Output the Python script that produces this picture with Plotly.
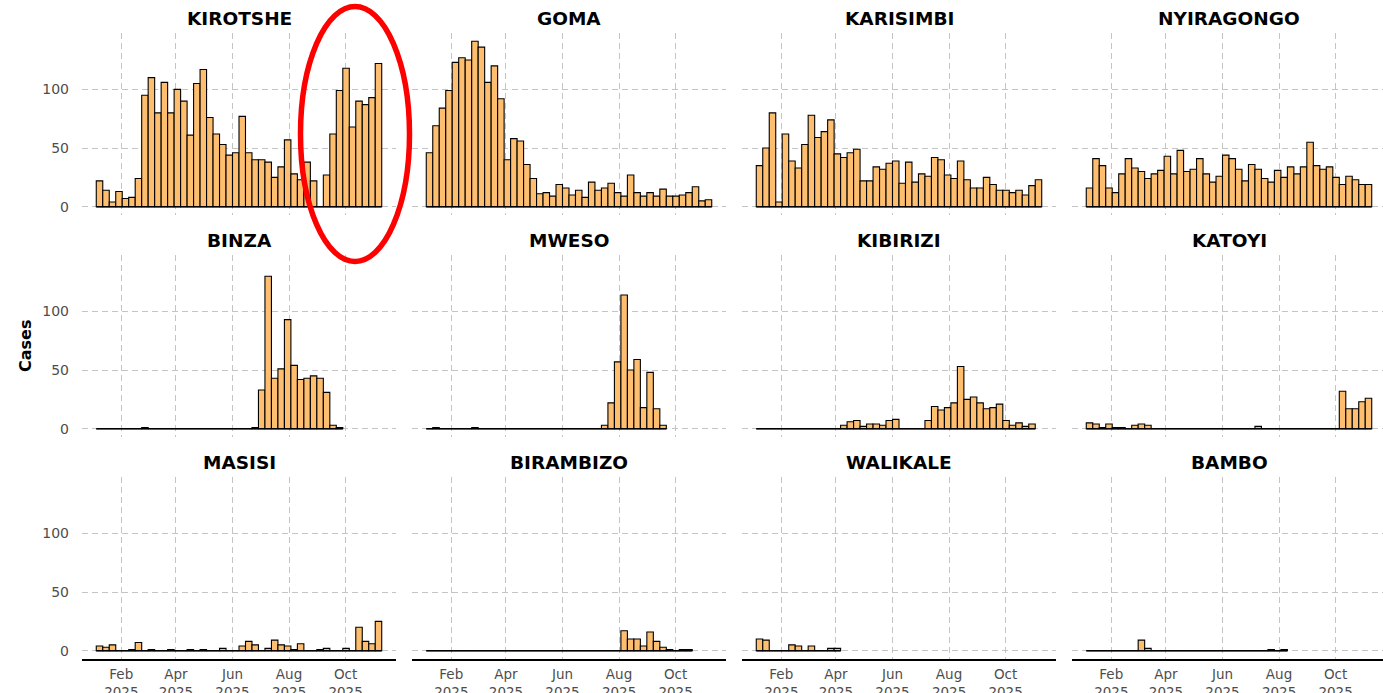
import plotly.graph_objects as go
import pandas as pd

# ---------------- data ----------------
week_starts = pd.date_range("2025-01-05", periods=44, freq="7D")

facets = ["KIROTSHE", "GOMA", "KARISIMBI", "NYIRAGONGO",
          "BINZA", "MWESO", "KIBIRIZI", "KATOYI",
          "MASISI", "BIRAMBIZO", "WALIKALE", "BAMBO"]

N = None
kirotshe = [22, 14, 4, 13, 7, 8, 24, 95, 110, 80,
            106, 80, 100, 90, 61, 105, 117, 76, 62, 53,
            44, 46, 77, 46, 40, 40, 38, 25, 34, 57,
            28, 23, 38, 22, 0, 27, 62, 99, 118, 68,
            90, 87, 93, 122]
goma = [46, 69, 84, 99, 123, 127, 125, 141, 136, 106,
        120, 92, 40, 58, 56, 36, 24, 11, 12, 9,
        19, 16, 10, 14, 8, 21, 14, 16, 20, 12,
        9, 27, 12, 9, 12, 9, 15, 9, 9, 10,
        12, 17, 5, 6]
karisimbi = [35, 50, 80, 4, 62, 39, 33, 53, 78, 59,
             64, 74, 45, 42, 46, 49, 22, 22, 34, 32,
             37, 39, 20, 38, 21, 28, 26, 42, 40, 27,
             24, 39, 23, 16, 16, 25, 19, 14, 14, 12,
             14, 10, 18, 23]
nyiragongo = [16, 41, 35, 16, 12, 28, 41, 33, 30, 24,
              28, 31, 43, 28, 48, 30, 32, 41, 28, 21,
              26, 44, 41, 32, 22, 36, 32, 24, 21, 31,
              25, 34, 28, 34, 55, 35, 32, 34, 25, 19,
              26, 23, 19, 19]
binza = [0, 0, 0, 0, 0, 0, 0, 1, 0, 0,
         0, 0, 0, 0, 0, 0, 0, 0, 0, 0,
         0, 0, 0, 0, 1, 33, 130, 43, 51, 93,
         54, 42, 43, 45, 43, 31, 3, 1, N, N,
         N, N, N, N]
mweso = [0, 1, 0, 0, 0, 0, 0, 1, 0, 0,
         0, 0, 0, 0, 0, 0, 0, 0, 0, 0,
         0, 0, 0, 0, 0, 0, 0, 3, 22, 57,
         114, 50, 59, 18, 48, 17, 3, N, N, N,
         N, N, N, N]
kibirizi = [0, 0, 0, 0, 0, 0, 0, 0, 0, 0,
            0, 0, 0, 3, 6, 7, 2, 4, 4, 3,
            7, 8, 0, 0, 0, 0, 7, 19, 16, 18,
            22, 53, 25, 27, 22, 17, 18, 21, 7, 3,
            5, 2, 4, N]
katoyi = [5, 4, 1, 4, 1, 1, 0, 3, 4, 3,
          0, 0, 0, 0, 0, 0, 0, 0, 0, 0,
          0, 0, 0, 0, 0, 0, 2, 0, 0, 0,
          0, 0, 0, 0, 0, 0, 0, 0, 0, 32,
          17, 17, 23, 26]
masisi = [4, 3, 5, 0, 0, 1, 7, 0, 1, 0,
          0, 1, 0, 0, 1, 0, 1, 0, 0, 2,
          0, 0, 4, 8, 5, 0, 2, 9, 5, 4,
          1, 6, 0, 0, 1, 2, 0, 0, 2, 0,
          20, 8, 6, 25]
birambizo = [0, 0, 0, 0, 0, 0, 0, 0, 0, 0,
             0, 0, 0, 0, 0, 0, 0, 0, 0, 0,
             0, 0, 0, 0, 0, 0, 0, 0, 0, 0,
             17, 10, 10, 4, 16, 8, 3, 1, 0, 1,
             1, N, N, N]
walikale = [10, 9, 0, 0, 0, 5, 4, 0, 4, 0,
            0, 2, 2, N, N, N, N, N, N, N,
            N, N, N, N, N, N, N, N, N, N,
            N, N, N, N, N, N, N, N, N, N,
            N, N, N, N]
bambo = [0, 0, 0, 0, 0, 0, 0, 0, 9, 2,
         0, 0, 0, 0, 0, 0, 0, 0, 0, 0,
         0, 0, 0, 0, 0, 0, 0, 0, 1, 0,
         1, N, N, N, N, N, N, N, N, N,
         N, N, N, N]

series = [kirotshe, goma, karisimbi, nyiragongo,
          binza, mweso, kibirizi, katoyi,
          masisi, birambizo, walikale, bambo]

tick_dates = ["2025-02-01", "2025-04-01", "2025-06-01", "2025-08-01", "2025-10-01"]
tick_labels = ["Feb<br>2025", "Apr<br>2025", "Jun<br>2025", "Aug<br>2025", "Oct<br>2025"]
y_ticks = [0, 50, 100]

# ---------------- layout geometry ----------------
W, H = 1383, 693
ML, MR, MT, MB = 82, 0, 33, 34
PW, PH = W - ML - MR, H - MT - MB


def px_x(p):
    return (p - ML) / PW


def px_y(p):
    return (H - MB - p) / PH


col_px = [(82, 396), (412, 726), (742, 1056), (1072, 1383)]
row_px = [(33, 215), (255, 437), (477, 659)]
full_w = 314

week = pd.Timedelta(days=7)
d_start = week_starts[0]
d_end = week_starts[-1] + week
span = d_end - d_start
pad = span * 0.05

ymax = max(v for s in series for v in s if v is not None)
y_range = [-0.05 * ymax, ymax * 1.05]

BAR_FILL = "#FDBF6F"
GRID = "#C4C4C4"
TICK_COLOR = "#4D4D4D"
FONT = "DejaVu Sans"

fig = go.Figure()
layout = dict(
    width=W, height=H, autosize=False,
    margin=dict(l=ML, r=MR, t=MT, b=MB, pad=0, autoexpand=False),
    paper_bgcolor="white", plot_bgcolor="white",
    showlegend=False,
    font=dict(family=FONT, color=TICK_COLOR, size=14),
    bargap=0,
    annotations=[], shapes=[],
)

for i, (name, vals) in enumerate(zip(facets, series)):
    r, c = divmod(i, 4)
    k = i + 1
    xa = "x" if k == 1 else f"x{k}"
    ya = "y" if k == 1 else f"y{k}"

    fig.add_trace(go.Bar(
        x=week_starts, y=vals, xaxis=xa, yaxis=ya,
        offset=0, width=week.total_seconds() * 1000,
        marker=dict(color=BAR_FILL, line=dict(color="black", width=1.1)),
        hoverinfo="skip",
    ))
    idx = [j for j, v in enumerate(vals) if v is not None]
    if idx:
        fig.add_trace(go.Scatter(
            x=[week_starts[idx[0]], week_starts[idx[-1]] + week], y=[0, 0],
            xaxis=xa, yaxis=ya, mode="lines",
            line=dict(color="black", width=1.4), hoverinfo="skip",
        ))

    left, right = col_px[c]
    top, bottom = row_px[r]
    x_lo = d_start - pad
    x_hi = x_lo + (span + 2 * pad) * ((right - left) / full_w)
    bottom_row = (r == 2)
    layout["xaxis" if k == 1 else f"xaxis{k}"] = dict(
        domain=[px_x(left), min(px_x(right), 1.0)],
        anchor=ya, range=[x_lo, x_hi], type="date",
        tickvals=tick_dates, ticktext=tick_labels,
        showticklabels=bottom_row, ticks="",
        ticklabelstandoff=2, automargin=False,
        tickfont=dict(family=FONT, size=13.5, color=TICK_COLOR),
        showgrid=True, gridcolor=GRID, griddash="6px,4px", gridwidth=1,
        zeroline=False,
        showline=bottom_row, linecolor="black", linewidth=2,
        fixedrange=True,
    )
    layout["yaxis" if k == 1 else f"yaxis{k}"] = dict(
        domain=[px_y(bottom), px_y(top)],
        anchor=xa, range=y_range,
        tickvals=y_ticks, showticklabels=(c == 0), ticks="",
        ticklabelstandoff=12, automargin=False,
        tickfont=dict(family=FONT, size=14, color=TICK_COLOR),
        showgrid=True, gridcolor=GRID, griddash="6px,4px", gridwidth=1,
        zeroline=False, showline=False, fixedrange=True,
    )
    layout["annotations"].append(dict(
        text=f"<b>{name}</b>", xref="paper", yref="paper",
        x=px_x((left + right) / 2 if c < 3 else (left + 1386) / 2),
        y=px_y(18 + 222 * r), xanchor="center", yanchor="middle",
        showarrow=False, font=dict(family=FONT, size=18.5, color="black"),
    ))

layout["annotations"].append(dict(
    text="<b>Cases</b>", xref="paper", yref="paper",
    x=px_x(25), y=px_y(346), xanchor="center", yanchor="middle",
    textangle=-90, showarrow=False,
    font=dict(family=FONT, size=16, color="black"),
))

# red highlight ellipse around the late KIROTSHE surge
layout["shapes"].append(dict(
    type="circle", xref="paper", yref="paper",
    x0=px_x(300.5), x1=px_x(409.5), y0=px_y(261.5), y1=px_y(6.5),
    line=dict(color="#FF0000", width=5.5), fillcolor="rgba(0,0,0,0)",
    layer="above",
))

fig.update_layout(**layout)

page_fix = (
    "document.documentElement.style.margin='0';"
    "document.documentElement.style.overflow='hidden';"
    "document.body.style.margin='0';"
    "document.body.style.padding='0';"
    "document.body.style.overflow='hidden';"
)
fig.write_html(
    "out.html",
    config={"displayModeBar": False, "staticPlot": True},
    post_script=page_fix,
)
